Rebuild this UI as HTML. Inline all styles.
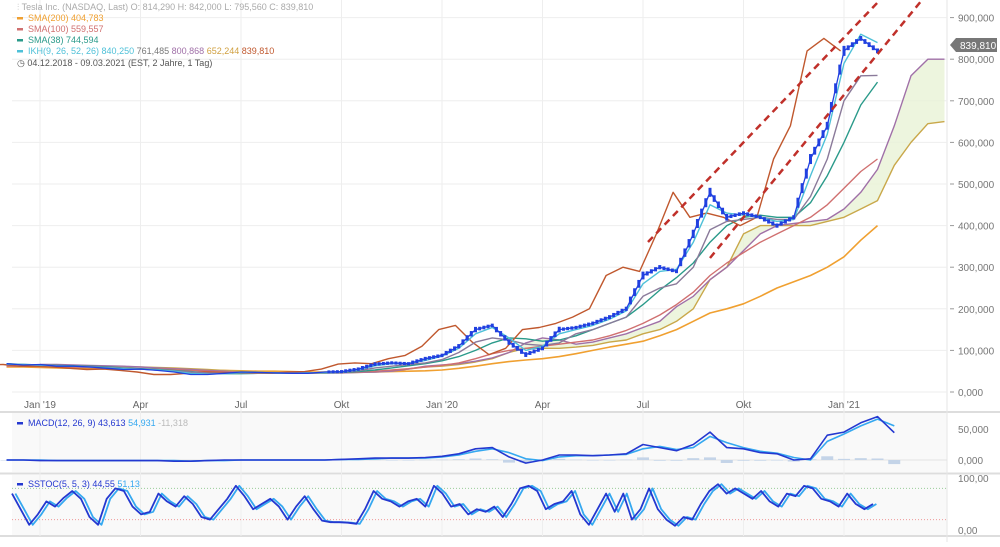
<!DOCTYPE html>
<html><head><meta charset="utf-8"><style>
body{margin:0;background:#fff;width:1000px;height:542px;overflow:hidden;font-family:"Liberation Sans",sans-serif}
svg text{font-family:"Liberation Sans",sans-serif}
</style></head><body>
<svg id="c" width="1000" height="542" viewBox="0 0 1000 542"></svg>
<script>
// ---- data (half-month steps from Dec 2018) ----
const xTickLabels=["Jan '19","Apr","Jul","Okt","Jan '20","Apr","Jul","Okt","Jan '21"];
const xTickMonths=[1,4,7,10,13,16,19,22,25];
const priceTicks=[0,100000,200000,300000,400000,500000,600000,700000,800000,900000];
const priceTickLabels=["0,000","100,000","200,000","300,000","400,000","500,000","600,000","700,000","800,000","900,000"];
const price=[68,65,66,62,62,60,57,54,55,52,48,42,42,45,48,47,46,45,45,48,49,55,67,70,68,80,88,110,150,160,120,90,105,150,155,165,180,200,280,300,290,380,480,420,430,420,400,420,560,640,820,850,820];
const sma200=[60,60,59,58,57,56,56,55,55,54,54,53,52,52,51,50,50,49,48,48,48,48,48,49,50,51,53,57,62,68,73,77,80,85,92,100,108,115,122,135,150,170,190,200,212,230,250,265,280,300,325,365,400];
const sma100=[62,62,61,61,60,59,58,57,56,55,54,52,50,48,47,46,46,45,45,46,47,48,50,53,56,60,64,70,80,92,100,105,110,115,120,125,135,148,165,185,210,240,280,310,335,360,380,400,420,450,490,530,560];
const sma38=[68,66,65,64,63,62,60,58,56,54,52,49,46,44,44,45,46,46,46,46,47,49,53,58,63,68,75,85,100,118,130,128,122,125,135,150,165,180,210,245,275,310,360,400,420,425,420,420,455,520,600,690,745];
const tenkan=[67,66,65,63,62,60,58,56,55,53,50,45,43,44,47,47,46,45,46,47,49,53,63,68,69,76,86,105,140,155,130,100,110,140,150,160,175,195,260,290,295,360,450,430,425,420,410,415,520,620,790,860,840];
const kijun=[66,66,64,63,62,61,59,57,55,53,51,48,46,45,46,46,46,46,46,47,48,51,58,62,66,70,78,95,120,130,125,115,112,118,140,150,165,180,230,250,260,300,390,410,415,420,415,415,470,560,700,760,761];
const spanA=[66,66,65,64,63,62,60,58,56,54,52,50,47,45,45,46,46,46,46,47,48,50,55,62,65,68,74,82,95,118,130,125,115,120,130,140,155,170,205,230,270,300,340,380,400,405,410,415,440,480,535,640,760,800,800];
const spanB=[64,64,63,62,62,61,60,59,58,56,54,52,50,48,47,46,46,46,46,47,48,50,55,60,62,66,72,80,95,105,105,105,108,112,120,125,140,150,170,200,270,300,380,400,400,400,400,410,420,440,460,545,600,645,650];
const macd=[0,0,-1,-1,-1,-1,-1,-1,-1,-1,-2,-2,-1,0,0,0,0,0,0,0,1,2,3,3,3,4,6,10,18,20,5,-5,0,8,8,7,8,10,25,20,15,25,45,20,18,12,10,0,2,40,45,60,70,44];
const signal=[0,0,0,-1,-1,-1,-1,-1,-1,-1,-1,-2,-1,-1,0,0,0,0,0,0,1,1,2,3,3,3,5,8,14,18,12,2,-1,5,7,7,8,9,18,22,17,20,38,28,20,14,11,4,0,30,42,55,66,55];
const stoch=[70,40,10,30,55,45,62,75,60,25,10,60,80,75,45,30,35,70,55,45,65,50,25,20,40,60,85,65,40,50,60,45,20,45,65,40,18,15,15,14,12,40,75,60,55,45,55,60,45,85,70,45,50,30,40,35,45,25,50,80,85,75,40,50,55,75,30,10,40,70,35,70,20,40,80,40,20,8,25,20,50,75,88,70,80,70,60,75,55,45,70,65,85,80,60,55,45,70,50,40,50];
// ---- axes ----
const svg=document.getElementById('c');const NS='http://www.w3.org/2000/svg';
function mk(tag,attrs,name,parent){const e=document.createElementNS(NS,tag);for(const k in attrs)e.setAttribute(k,attrs[k]);


(parent||svg).appendChild(e);return e;}
const xM=m=>40+(m-1)*33.5;
const xT=t=>xM(t/2);
const yP=v=>392-v*0.416;
const yPk=v=>392-v*416;
const yM=v=>460-v*0.62;
const yS=v=>530-v*0.52;
const xS=i=>12+i*(873-12)/(stoch.length-1);
mk('rect',{x:0,y:0,width:1000,height:542,fill:'#fff'},'background');
mk('rect',{x:12,y:413,width:935,height:59,fill:'#f9f9f9'},'macd-panel-bg');
mk('rect',{x:12,y:475,width:935,height:60,fill:'#f9f9f9'},'stoch-panel-bg');
mk('line',{x1:0,y1:412,x2:1000,y2:412,stroke:'#ddd','stroke-width':2},'panel-divider');
mk('line',{x1:0,y1:473.5,x2:1000,y2:473.5,stroke:'#ddd','stroke-width':2},'panel-divider');
mk('line',{x1:0,y1:536,x2:1000,y2:536,stroke:'#ddd','stroke-width':2},'panel-divider');
mk('line',{x1:947,y1:0,x2:947,y2:542,stroke:'#e6e6e6'},'y-axis-line');
priceTicks.forEach((v,i)=>{const y=yPk(v/1000000);
mk('line',{x1:12,y1:y,x2:947,y2:y,stroke:'#eee'},'grid-line');
mk('line',{x1:950,y1:y,x2:954,y2:y,stroke:'#999'},'y-tick');
const t=mk('text',{x:958,y:y+4,'font-size':10,fill:'#777'},'y-tick-label');t.textContent=priceTickLabels[i];});
xTickMonths.forEach((m,i)=>{const x=xM(m);
mk('line',{x1:x,y1:0,x2:x,y2:536,stroke:'#eee'},'grid-line');
const t=mk('text',{x:x,y:408,'font-size':10,fill:'#666','text-anchor':'middle'},'x-tick-label');t.textContent=xTickLabels[i];});
function poly(arr,xf,yf,off,color,w,name){const pts=arr.map((v,i)=>xf(i+off).toFixed(1)+','+yf(v).toFixed(1)).join(' ');
return mk('polyline',{points:pts,fill:'none',stroke:color,'stroke-width':w,'stroke-linejoin':'round'},name);}
(function(){let d='';spanA.forEach((v,i)=>{d+=(i?'L':'M')+xT(i+2).toFixed(1)+','+yP(v).toFixed(1);});
for(let i=spanB.length-1;i>=0;i--)d+='L'+xT(i+2).toFixed(1)+','+yP(spanB[i]).toFixed(1);
mk('path',{d:d+'Z',fill:'#e8f3d6',opacity:0.8},'ichimoku-cloud');})();
poly(sma200,xT,yP,0,'#f0a030',1.6,'sma200-line');
poly(spanB,xT,yP,2,'#c9a84a',1.4,'ichimoku-span-b');
poly(spanA,xT,yP,2,'#a070a8',1.4,'ichimoku-span-a');
poly(sma100,xT,yP,0,'#d07070',1.4,'sma100-line');
poly(sma38,xT,yP,0,'#2a9a8a',1.4,'sma38-line');
poly(price,xT,yP,-2.2,'#c0582e',1.4,'chikou-span');
poly(kijun,xT,yP,0,'#8a7a9a',1.4,'ichimoku-kijun');
poly(tenkan,xT,yP,0,'#4ec0d8',1.4,'ichimoku-tenkan');
poly(price,xT,yP,0,'#2040e0',1.3,'price-line');
price.forEach((v,i)=>{if(i<20||i===0)return;const p=price[i-1];
for(let k=1;k<=4;k++){const f=k/4;const val=p+(v-p)*f;const x=xT(i-1+f);const h=Math.min(10,3+Math.abs(v-p)*0.06);
mk('rect',{x:x-1.5,y:yP(val)-h/2,width:3,height:h,fill:'#2040e0'},'price-candle');}});
mk('line',{x1:648,y1:242,x2:880,y2:0,stroke:'#c0302a','stroke-width':2.5,'stroke-dasharray':'7,5'},'trendline-upper');
mk('line',{x1:710,y1:258,x2:922,y2:0,stroke:'#c0302a','stroke-width':2.5,'stroke-dasharray':'7,5'},'trendline-lower');
mk('path',{d:'M950,45 L956,38 L997,38 L997,52 L956,52 Z',fill:'#777'},'last-price-tag');
let tt=mk('text',{x:960,y:49,'font-size':10,fill:'#fff'},'last-price-value');tt.textContent='839,810';
mk('line',{x1:12,y1:460,x2:947,y2:460,stroke:'#e2e2e2'},'macd-zero-line');
macd.forEach((v,i)=>{const h=(v-signal[i])*0.6;const y=yM(Math.max(h,0)),y2=yM(Math.min(h,0));
mk('rect',{x:xT(i)-6,y:y,width:12,height:Math.max(0.5,y2-y),fill:'#c4d4e8'},'macd-histogram-bar');});
poly(signal,xT,yM,0,'#35a8f0',1.6,'macd-signal-line');
poly(macd,xT,yM,0,'#2438d0',1.6,'macd-line');
[[50,'50,000'],[0,'0,000']].forEach(a=>{const t=mk('text',{x:958,y:yM(a[0])+4,'font-size':10,fill:'#777'},'macd-tick-label');t.textContent=a[1];});
mk('line',{x1:12,y1:yS(80),x2:947,y2:yS(80),stroke:'#9c9','stroke-dasharray':'1,2'},'stoch-80-line');
mk('line',{x1:12,y1:yS(20),x2:947,y2:yS(20),stroke:'#e99','stroke-dasharray':'1,2'},'stoch-20-line');
poly(stoch,xS,yS,0.4,'#35a8f0',1.8,'stoch-d-line');
poly(stoch,xS,yS,0,'#2438d0',1.8,'stoch-k-line');
[[100,'100,00'],[0,'0,00']].forEach(a=>{const t=mk('text',{x:958,y:yS(a[0])+4,'font-size':10,fill:'#777'},'stoch-tick-label');t.textContent=a[1];});
function leg(y,parts,name,dash){const g=mk('g',{},name);if(dash)mk('rect',{x:17,y:y-4,width:6,height:2.5,fill:dash},'legend-swatch',g);
let x=dash?28:17;const t=mk('text',{x:x,y:y,'font-size':9},'legend-text',g);
parts.forEach(p=>{const s=document.createElementNS(NS,'tspan');s.setAttribute('fill',p[1]);s.textContent=p[0]+'  ';t.appendChild(s);});}
leg(10,[['⫶ Tesla Inc. (NASDAQ, Last)  O: 814,290  H: 842,000  L: 795,560  C: 839,810','#aaa']],'legend-title');
leg(21,[['SMA(200)','#f0a030'],['404,783','#f0a030']],'legend-sma200','#f0a030');
leg(32,[['SMA(100)','#d07070'],['559,557','#d07070']],'legend-sma100','#d07070');
leg(43,[['SMA(38)','#2a9a8a'],['744,594','#2a9a8a']],'legend-sma38','#2a9a8a');
leg(54,[['IKH(9, 26, 52, 26)','#4ec0d8'],['840,250','#4ec0d8'],['761,485','#777'],['800,868','#a070a8'],['652,244','#d0a040'],['839,810','#c0582e']],'legend-ichimoku','#4ec0d8');
leg(66,[['◷ 04.12.2018 - 09.03.2021   (EST, 2 Jahre, 1 Tag)','#555']],'legend-date-range');
leg(426,[['MACD(12, 26, 9)','#2438d0'],['43,613','#2438d0'],['54,931','#35a8f0'],['-11,318','#bbb']],'legend-macd','#2438d0');
leg(487,[['SSTOC(5, 5, 3)','#2438d0'],['44,55','#2438d0'],['51,13','#35a8f0']],'legend-stoch','#2438d0');
</script>
</body></html>
